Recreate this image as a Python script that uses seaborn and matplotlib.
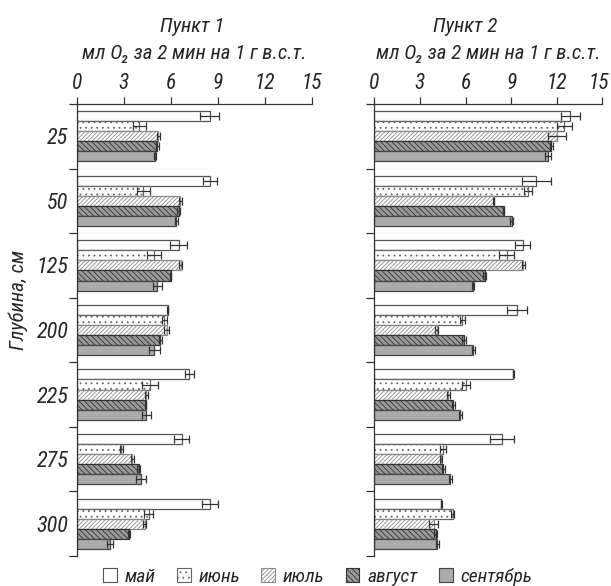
import pandas as pd
import matplotlib.pyplot as plt
import matplotlib.patches as mpatches
import matplotlib.transforms as mtransforms
from matplotlib.container import BarContainer
import seaborn as sns

# -------------------------------
# Data
# -------------------------------
depths = ['25', '50', '125', '200', '225', '275', '300']
months = ['май', 'июнь', 'июль', 'август', 'сентябрь']

# Пункт 1
may1 = [8.5, 8.5, 6.5, 5.8, 7.2, 6.7, 8.5]
jun1 = [4.0, 4.25, 4.95, 5.6, 4.7, 2.85, 4.6]
jul1 = [5.2, 6.6, 6.65, 5.75, 4.45, 3.55, 4.35]
aug1 = [5.15, 6.5, 6.0, 5.35, 4.4, 3.95, 3.35]
sep1 = [5.0, 6.35, 5.15, 4.95, 4.45, 4.1, 2.15]
may1_err = [0.6, 0.45, 0.55, 0.05, 0.3, 0.5, 0.5]
jun1_err = [0.4, 0.4, 0.45, 0.15, 0.5, 0.1, 0.3]
jul1_err = [0.1, 0.1, 0.1, 0.15, 0.1, 0.1, 0.1]
aug1_err = [0.1, 0.1, 0.05, 0.1, 0.05, 0.1, 0.05]
sep1_err = [0.05, 0.1, 0.3, 0.35, 0.3, 0.3, 0.2]

# Пункт 2
may2 = [12.9, 10.65, 9.75, 9.4, 9.15, 8.4, 4.4]
jun2 = [12.5, 10.1, 8.7, 5.8, 6.05, 4.5, 5.15]
jul2 = [12.0, 7.85, 9.8, 4.1, 4.85, 4.4, 3.9]
aug2 = [11.65, 8.5, 7.25, 5.9, 5.2, 4.55, 4.05]
sep2 = [11.45, 9.05, 6.5, 6.5, 5.65, 5.0, 4.15]
may2_err = [0.65, 0.95, 0.5, 0.65, 0.05, 0.8, 0.03]
jun2_err = [0.5, 0.25, 0.5, 0.15, 0.25, 0.2, 0.12]
jul2_err = [0.6, 0.05, 0.1, 0.1, 0.1, 0.05, 0.3]
aug2_err = [0.1, 0.05, 0.1, 0.1, 0.1, 0.1, 0.1]
sep2_err = [0.2, 0.1, 0.05, 0.1, 0.1, 0.1, 0.1]

x_ticks = [0, 3, 6, 9, 12, 15]


def long_table(series, errors):
    rows = []
    for m, vals, errs in zip(months, series, errors):
        for d, v, e in zip(depths, vals, errs):
            rows.append({'depth': d, 'month': m, 'value': v, 'err': e})
    return pd.DataFrame(rows)


df1 = long_table([may1, jun1, jul1, aug1, sep1],
                 [may1_err, jun1_err, jul1_err, aug1_err, sep1_err])
df2 = long_table([may2, jun2, jul2, aug2, sep2],
                 [may2_err, jun2_err, jul2_err, aug2_err, sep2_err])

# -------------------------------
# Style
# -------------------------------
sns.set_style('white')
plt.rcParams['font.family'] = ['Roboto Condensed', 'Liberation Sans Narrow',
                               'Roboto', 'DejaVu Sans']
plt.rcParams['font.style'] = 'italic'
plt.rcParams['hatch.linewidth'] = 0.6

faces = ['white', 'white', 'white', '#9a9a9a', '#ababab']
edges = ['#555555', '#666666', '#8a8a8a', '#333333', '#444444']
hatches = ['', '...', '////////', '\\\\\\\\\\\\', '']

fig = plt.figure(figsize=(6.11, 5.86), dpi=100)
ax1 = fig.add_axes([0.1255, 0.0512, 0.3846, 0.7713])
ax2 = fig.add_axes([0.6126, 0.0512, 0.3732, 0.7713])


def draw_panel(ax, df, title, title_x, show_labels):
    sns.barplot(data=df, y='depth', x='value', hue='month', order=depths,
                hue_order=months, orient='h', errorbar=None, width=0.78,
                legend=False, ax=ax)
    bars = [c for c in ax.containers if isinstance(c, BarContainer)]
    for k, cont in enumerate(bars):
        for p in cont.patches:
            p.set_facecolor(faces[k])
            p.set_edgecolor(edges[k])
            p.set_hatch(hatches[k])
            p.set_linewidth(0.9)
            yc = p.get_y() + p.get_height() / 2
            i = int(round(yc))
            e = df[(df['month'] == months[k]) & (df['depth'] == depths[i])]['err'].iloc[0]
            ax.errorbar(p.get_width(), yc, xerr=e, fmt='none', ecolor='#333333',
                        elinewidth=0.9, capsize=3, capthick=0.9)

    ax.set_xlim(0, 15)
    ax.set_ylim(6.5, -0.5)
    ax.xaxis.tick_top()
    ax.set_xticks(x_ticks)
    ax.set_xticklabels([str(t) for t in x_ticks], fontsize=15.5)
    ax.tick_params(axis='x', direction='out', length=5, width=0.9,
                   color='#333333', pad=2, top=True, bottom=False)

    ax.set_yticks([i - 0.5 for i in range(len(depths) + 1)])
    ax.set_yticklabels([])
    ax.tick_params(axis='y', which='major', direction='out', length=6,
                   width=0.9, color='#333333', left=True)
    ax.set_yticks(range(len(depths)), minor=True)
    if show_labels:
        ax.set_yticklabels(depths, minor=True, fontsize=16)
    ax.tick_params(axis='y', which='minor', length=0, pad=6)

    for s in ['right', 'bottom']:
        ax.spines[s].set_visible(False)
    for s in ['top', 'left']:
        ax.spines[s].set_color('#333333')
        ax.spines[s].set_linewidth(0.9)
    ax.set_xlabel('')
    ax.set_ylabel('')

    ax.text(title_x, 1.16, title, transform=ax.transAxes, ha='center',
            va='baseline', fontsize=15)
    ax.text(0.5, 1.10, 'мл O₂ за 2 мин на 1 г в.с.т.', transform=ax.transAxes,
            ha='center', va='baseline', fontsize=15)


draw_panel(ax1, df1, 'Пункт 1', 0.49, True)
draw_panel(ax2, df2, 'Пункт 2', 0.40, False)

# keep the last "15" of the right panel inside the figure
last = ax2.get_xticklabels()[-1]
last.set_transform(last.get_transform() +
                   mtransforms.ScaledTranslation(-4 / 100, 0, fig.dpi_scale_trans))

fig.text(0.03, 0.488, 'Глубина, см', rotation=90, ha='center', va='center',
         fontsize=15)

# -------------------------------
# Legend
# -------------------------------
handles = [mpatches.Patch(facecolor=faces[k], edgecolor=edges[k], hatch=hatches[k],
                          linewidth=0.8, label=months[k]) for k in range(5)]
fig.legend(handles=handles, loc='lower center', bbox_to_anchor=(0.52, -0.03),
           ncol=5, frameon=False, fontsize=14, handlelength=0.7,
           handleheight=0.7, handletextpad=0.4, columnspacing=1.1)

plt.savefig('out.png', dpi=100)
